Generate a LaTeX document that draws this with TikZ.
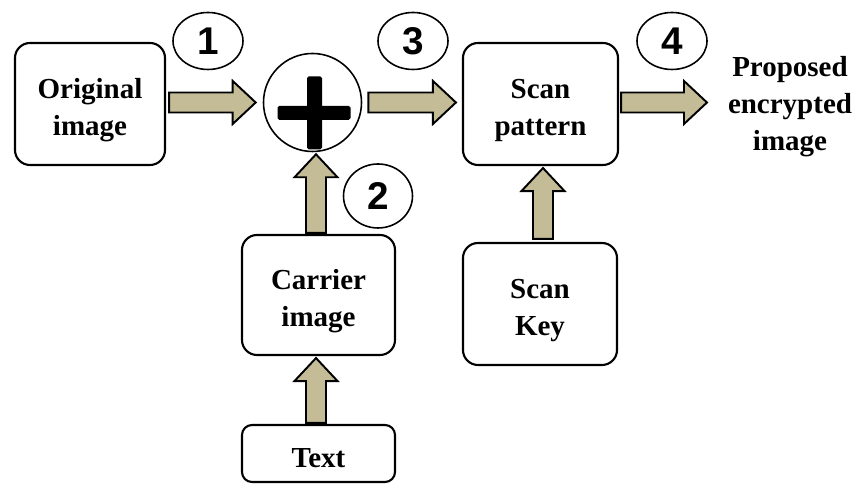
\documentclass[tikz,border=0pt]{standalone}
\usepackage{fontspec}
\setmainfont{Liberation Serif}
\newfontfamily\chiffres{Liberation Sans}
\usetikzlibrary{calc,shapes.geometric}

\definecolor{kaki}{RGB}{196,188,150}

\tikzset{
  bloc/.style={draw, line width=1.2pt, rounded corners=0.3cm, align=center,
    text height=39pt, font=\fontsize{16.5}{21}\selectfont\bfseries},
  numero/.style={draw, ellipse, line width=0.9pt, inner sep=0pt,
    minimum width=1.4cm, minimum height=1.14cm,
    font=\fontsize{22}{22}\selectfont\chiffres\bfseries},
  fleche/.style={draw, fill=kaki, line width=1.1pt, line join=miter}
}

% Grosse fleche vers la droite (de #1 a #2)
\newcommand{\flechedroite}[2]{%
  \draw[fleche] ($(#1)+(0,0.2)$) -- ($(#2)+(-0.46,0.2)$) -- ($(#2)+(-0.46,0.43)$)
    -- (#2) -- ($(#2)+(-0.46,-0.43)$) -- ($(#2)+(-0.46,-0.2)$) -- ($(#1)+(0,-0.2)$) -- cycle;}
% Grosse fleche vers le haut (de #1 a #2)
\newcommand{\flechehaut}[2]{%
  \draw[fleche] ($(#1)+(-0.2,0)$) -- ($(#2)+(-0.2,-0.46)$) -- ($(#2)+(-0.43,-0.46)$)
    -- (#2) -- ($(#2)+(0.43,-0.46)$) -- ($(#2)+(0.2,-0.46)$) -- ($(#1)+(0.2,0)$) -- cycle;}

\begin{document}
\begin{tikzpicture}
\useasboundingbox (0,0) rectangle (17.14,9.68);

% Blocs
\node[bloc, minimum width=3cm, minimum height=2.44cm] (orig) at (1.8,7.6) {Original\\image};
\node[draw, circle, line width=0.9pt, minimum size=1.96cm] (plus) at (6.25,7.63) {};
\node[bloc, minimum width=3.1cm, minimum height=2.44cm] (motif) at (10.81,7.6) {Scan\\pattern};
\node[bloc, minimum width=3.08cm, minimum height=2.44cm] (cle) at (10.8,3.6) {Scan\\Key};
\node[bloc, minimum width=3.06cm, minimum height=2.4cm] (porteuse) at (6.37,3.78) {Carrier\\image};
\node[bloc, text height=16pt, rounded corners=0.2cm, minimum width=3.06cm, minimum height=1.14cm] (texte) at (6.37,0.61) {Text};
\node[align=center, font=\fontsize{16.5}{21}\selectfont\bfseries] (resultat) at (15.8,7.54) {Proposed\\encrypted\\image};

% Signe plus
\fill[rounded corners=1pt] ($(plus)+(-0.7,-0.35)$) rectangle ($(plus)+(0.76,-0.07)$);
\fill[rounded corners=1pt] ($(plus)+(-0.11,-0.94)$) rectangle ($(plus)+(0.19,0.52)$);

% Numeros des etapes
\node[numero] (n1) at (4.16,8.86) {1};
\node[numero, minimum height=1.28cm, minimum width=1.38cm] (n2) at (7.56,5.76) {2};
\node[numero] (n3) at (8.26,8.86) {3};
\node[numero] (n4) at (13.44,8.86) {4};

% Points de depart et d'arrivee des fleches
\coordinate (d1) at ($(orig.east)+(0.06,0.03)$);
\coordinate (a1) at ($(plus.west)+(-0.14,0)$);
\coordinate (d3) at ($(plus.east)+(0.12,0)$);
\coordinate (a3) at ($(motif.west)+(-0.12,0.03)$);
\coordinate (d4) at ($(motif.east)+(0.04,0.03)$);
\coordinate (a4) at (14.14,7.63);
\coordinate (d2) at ($(porteuse.north)+(-0.05,0.02)$);
\coordinate (a2) at ($(plus.south)+(0.07,-0.04)$);
\coordinate (dt) at ($(texte.north)+(-0.05,0.02)$);
\coordinate (at) at ($(porteuse.south)+(-0.05,-0.04)$);
\coordinate (dk) at ($(cle.north)+(0.06,0.06)$);
\coordinate (ak) at ($(motif.south)+(0.05,-0.04)$);

% Fleches
\flechedroite{d1}{a1}
\flechedroite{d3}{a3}
\flechedroite{d4}{a4}
\flechehaut{d2}{a2}
\flechehaut{dt}{at}
\flechehaut{dk}{ak}

\end{tikzpicture}
\end{document}
